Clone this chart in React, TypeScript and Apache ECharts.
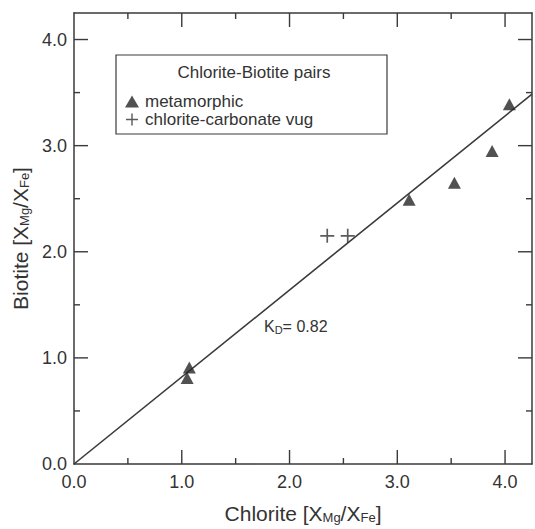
import React, { useEffect, useRef } from 'react';
import * as echarts from 'echarts';

// ---- data ----
const metamorphicX = [1.05, 1.07, 3.11, 3.53, 3.88, 4.04];
const metamorphicY = [0.81, 0.91, 2.49, 2.65, 2.95, 3.39];
const vugX = [2.35, 2.54];
const vugY = [2.15, 2.15];
const KD = 0.82;
const fitX = [0, 4.25];
const tickValues = [0, 1, 2, 3, 4];
const tickLabels = ['0.0', '1.0', '2.0', '3.0', '4.0'];
const majorTicks = [1, 2, 3, 4];
const minorTicks = [0.5, 1.5, 2.5, 3.5];
const seriesNames = ['metamorphic', 'chlorite-carbonate vug'];

const FONT = '"Liberation Sans", Arial, Helvetica, sans-serif';
const TEXT = '#333';
const LINE = '#3a3a3a';
const AXMIN = 0;
const AXMAX = 4.25;

const crossPath = 'path://M4.4,0H5.6V4.4H10V5.6H5.6V10H4.4V5.6H0V4.4H4.4Z';

const fmt = (v: number) => {
  const i = tickValues.indexOf(v);
  return i >= 0 ? tickLabels[i] : '';
};

function makeAxes(dim: 'x' | 'y') {
  const mainPos = dim === 'x' ? 'bottom' : 'left';
  const oppPos = dim === 'x' ? 'top' : 'right';
  const line = () => ({ show: true, onZero: false, lineStyle: { color: LINE, width: 1.5 } });
  const nameText =
    dim === 'x' ? 'Chlorite [X{sub|Mg}/X{sub|Fe}]' : 'Biotite [X{sub|Mg}/X{sub|Fe}]';
  return [
    {
      type: 'value', min: AXMIN, max: AXMAX,
      position: mainPos,
      interval: 1,
      axisLine: line(),
      axisTick: { show: false },
      splitLine: { show: false },
      axisLabel: {
        show: true,
        formatter: fmt,
        fontSize: 18,
        fontFamily: FONT,
        color: TEXT,
        margin: dim === 'x' ? 9 : 7,
      },
      name: nameText,
      nameLocation: 'middle',
      nameGap: dim === 'x' ? 38 : 37,
      nameRotate: dim === 'x' ? 0 : 90,
      nameTextStyle: {
        fontSize: 21,
        fontFamily: FONT,
        color: TEXT,
        rich: { sub: { fontSize: 13, fontFamily: FONT, color: TEXT, padding: [9, 0, 0, 0] } },
      },
    },
    {
      type: 'value', min: AXMIN, max: AXMAX,
      position: oppPos, interval: 1,
      axisLine: line(), axisTick: { show: false }, axisLabel: { show: false }, splitLine: { show: false },
    },
  ];
}

const tickData = [
  ...majorTicks.map((v) => [v, 1]),
  ...minorTicks.map((v) => [v, 0]),
];

function renderTicks(params: any, api: any) {
  const v = api.value(0);
  const len = api.value(1) ? 14 : 6;
  const style = { stroke: LINE, lineWidth: 1.4 };
  const b = api.coord([v, AXMIN]);
  const t = api.coord([v, AXMAX]);
  const l = api.coord([AXMIN, v]);
  const r = api.coord([AXMAX, v]);
  return {
    type: 'group',
    children: [
      { type: 'line', shape: { x1: b[0], y1: b[1], x2: b[0], y2: b[1] - len }, style },
      { type: 'line', shape: { x1: t[0], y1: t[1], x2: t[0], y2: t[1] + len }, style },
      { type: 'line', shape: { x1: l[0], y1: l[1], x2: l[0] + len, y2: l[1] }, style },
      { type: 'line', shape: { x1: r[0], y1: r[1], x2: r[0] - len, y2: r[1] }, style },
    ],
  };
}

export default function App() {
  const ref = useRef<HTMLDivElement>(null);
  useEffect(() => {
    if (!ref.current) return;
    const chart = echarts.init(ref.current, null, { renderer: 'svg' });
    const option = {
      animation: false,
      grid: { left: 74, right: 3, top: 13, bottom: 60 },
      xAxis: makeAxes('x'),
      yAxis: makeAxes('y'),
      legend: {
        data: seriesNames,
        orient: 'vertical',
        left: 120,
        top: 88,
        itemWidth: 14,
        itemHeight: 12,
        itemGap: 1,
        selectedMode: false,
        textStyle: { fontSize: 17, fontFamily: FONT, color: TEXT, lineHeight: 17, padding: [0, 0, 0, 1] },
      },
      graphic: [
        {
          type: 'rect',
          shape: { x: 116, y: 55, width: 271, height: 79 },
          style: { fill: 'none', stroke: LINE, lineWidth: 1.2 },
          silent: true,
        },
        {
          type: 'text',
          x: 254,
          y: 72,
          style: {
            text: 'Chlorite-Biotite pairs',
            fontSize: 17,
            fontFamily: FONT,
            fill: TEXT,
            align: 'center',
            verticalAlign: 'middle',
          },
          silent: true,
        },
        {
          type: 'text',
          x: 264,
          y: 326,
          style: {
            text: 'K{sub|D}= ' + KD.toFixed(2),
            fontSize: 16,
            fontFamily: FONT,
            fill: TEXT,
            align: 'left',
            verticalAlign: 'middle',
            rich: { sub: { fontSize: 11, fontFamily: FONT, fill: TEXT, padding: [8, 0, 0, 0] } },
          },
          silent: true,
        },
      ],
      series: [
        {
          name: 'ticks',
          type: 'custom',
          renderItem: renderTicks,
          data: tickData,
          clip: false,
          silent: true,
          z: 5,
        },
        {
          name: 'fit',
          type: 'line',
          data: fitX.map((x) => [x, KD * x]),
          showSymbol: false,
          lineStyle: { color: LINE, width: 1.6 },
          silent: true,
          z: 1,
        },
        {
          name: seriesNames[0],
          type: 'scatter',
          symbol: 'triangle',
          symbolSize: [13, 12],
          itemStyle: { color: '#262626' },
          data: metamorphicX.map((x, i) => [x, metamorphicY[i]]),
          z: 3,
        },
        {
          name: seriesNames[1],
          type: 'scatter',
          symbol: crossPath,
          symbolSize: 14,
          itemStyle: { color: '#333' },
          data: vugX.map((x, i) => [x, vugY[i]]),
          z: 3,
        },
      ],
    };
    chart.setOption(option as any);
    return () => chart.dispose();
  }, []);
  return (
    <div
      ref={ref}
      style={{ position: 'fixed', left: 0, top: 0, width: 535, height: 529, background: '#fff' }}
    />
  );
}
